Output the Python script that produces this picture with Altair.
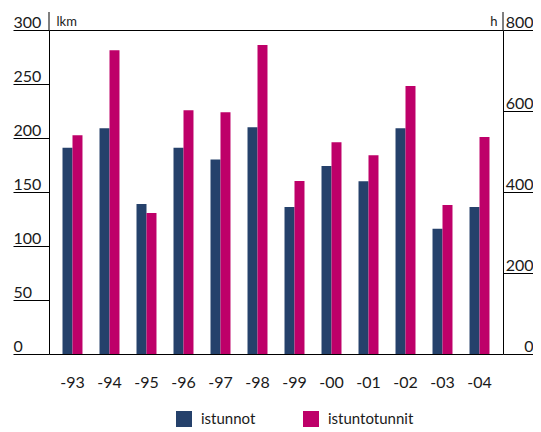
import altair as alt
import pandas as pd

years = ['-93', '-94', '-95', '-96', '-97', '-98', '-99', '-00', '-01', '-02', '-03', '-04']
istunnot = [191, 209, 139, 191, 180, 210, 136, 174, 160, 209, 116, 136]
istuntotunnit = [540, 750, 348, 602, 597, 763, 427, 523, 491, 662, 368, 536]
series = ['istunnot', 'istuntotunnit']
colors = ['#25416B', '#BE0069']
left_ticks = [0, 50, 100, 150, 200, 250, 300]
right_ticks = [0, 200, 400, 600, 800]

FONT = 'Lato'
TXT = '#1a1a1a'

df_a = pd.DataFrame({'year': years, 'value': istunnot, 'series': series[0]})
df_b = pd.DataFrame({'year': years, 'value': istuntotunnit, 'series': series[1]})

x_enc = alt.X('year:N', sort=years, title=None,
              scale=alt.Scale(paddingInner=0.46, paddingOuter=0.365),
              axis=alt.Axis(orient='bottom', domain=False, ticks=False, tickSize=0,
                            labelPadding=20, labelAngle=0, labelFontSize=16,
                            labelFont=FONT, labelColor=TXT))
xo_enc = alt.XOffset('series:N', scale=alt.Scale(domain=series, paddingInner=0, paddingOuter=0))
color_enc = alt.Color('series:N', scale=alt.Scale(domain=series, range=colors),
                      legend=alt.Legend(title=None, orient='none', legendX=127, legendY=381,
                                        direction='horizontal', symbolType='square',
                                        symbolSize=256, symbolStrokeWidth=0,
                                        labelFontSize=15, labelFont=FONT, labelColor=TXT,
                                        labelOffset=9, columnPadding=47))

left = alt.Chart(df_a).mark_bar().encode(
    x=x_enc,
    xOffset=xo_enc,
    color=color_enc,
    y=alt.Y('value:Q', scale=alt.Scale(domain=[0, 300], nice=False, zero=True),
            axis=alt.Axis(orient='left', values=left_ticks, title='lkm', titleAngle=0,
                          titleAlign='left', titleBaseline='alphabetic', titleX=7, titleY=-5,
                          titleFontSize=13, titleFontWeight='normal', titleFont=FONT,
                          titleColor=TXT, domain=False, grid=False, tickSize=36,
                          tickColor='black', labelAlign='left', labelPadding=0,
                          labelBaseline='alphabetic', labelOffset=-3, labelFontSize=16,
                          labelFont=FONT, labelColor=TXT)),
)

right = alt.Chart(df_b).mark_bar().encode(
    x=x_enc,
    xOffset=xo_enc,
    color=color_enc,
    y=alt.Y('value:Q', scale=alt.Scale(domain=[0, 800], nice=False, zero=True),
            axis=alt.Axis(orient='right', values=right_ticks, title='h', titleAngle=0,
                          titleAlign='right', titleBaseline='alphabetic', titleX=-6, titleY=-5,
                          titleFontSize=13, titleFontWeight='normal', titleFont=FONT,
                          titleColor=TXT, domain=False, grid=False, tickSize=30,
                          tickColor='black', labelAlign='right', labelPadding=0,
                          labelBaseline='alphabetic', labelOffset=-3, labelFontSize=16,
                          labelFont=FONT, labelColor=TXT)),
)

ext = pd.DataFrame({'k': [0]})
ext_left = alt.Chart(ext).mark_rule(color='black', strokeWidth=1).encode(
    x=alt.value(0), y=alt.value(-18), y2=alt.value(0))
ext_right = alt.Chart(ext).mark_rule(color='black', strokeWidth=1).encode(
    x=alt.value(454), y=alt.value(-18), y2=alt.value(0))

chart = alt.layer(left, right, ext_left, ext_right).resolve_scale(
    y='independent'
).properties(
    width=454, height=324,
    padding={'left': 41, 'top': 22, 'right': 30, 'bottom': 74},
    autosize=alt.AutoSizeParams(type='none'),
).configure_view(stroke='black', strokeWidth=1)

chart.save('out.html', embed_options={'renderer': 'svg', 'actions': False})
